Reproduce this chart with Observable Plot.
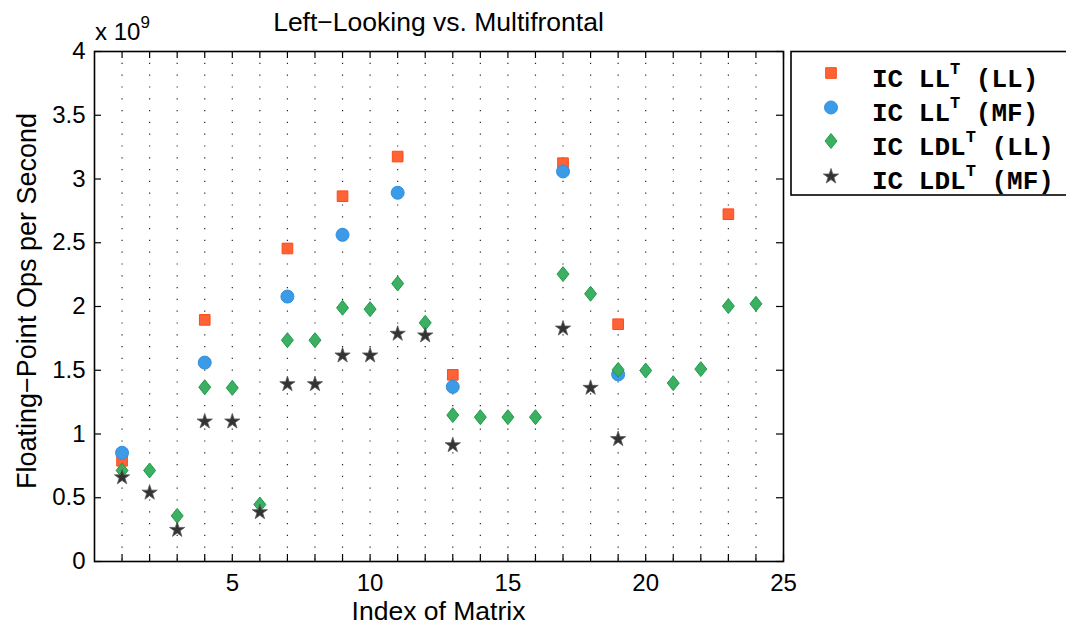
<!DOCTYPE html>
<html>
<head>
<meta charset="utf-8">
<script src="https://cdn.jsdelivr.net/npm/d3@7"></script>
<script src="https://cdn.jsdelivr.net/npm/@observablehq/plot@0.6"></script>
<style>
  html, body { margin: 0; padding: 0; background: #fff; overflow: hidden; }
  #chart { width: 1066px; height: 626px; overflow: hidden; }
</style>
</head>
<body>
<div id="chart"></div>
<script>
// ---- data (values in units of 10^9 flops/s) ----
const titleText = "Left\u2212Looking vs. Multifrontal";
const xLabelText = "Index of Matrix";
const yLabelText = "Floating\u2212Point Ops per Second";

const llLL_x = [1, 4, 7, 9, 11, 13, 17, 19, 23];
const llLL_y = [0.79, 1.895, 2.455, 2.865, 3.176, 1.464, 3.124, 1.861, 2.724];

const llMF_x = [1, 4, 7, 9, 11, 13, 17, 19];
const llMF_y = [0.853, 1.56, 2.078, 2.562, 2.892, 1.37, 3.059, 1.467];

const ldlLL_x = [1, 2, 3, 4, 5, 6, 7, 8, 9, 10, 11, 12, 13, 14, 15, 16, 17, 18, 19, 20, 21, 22, 23, 24];
const ldlLL_y = [0.714, 0.714, 0.358, 1.367, 1.362, 0.447, 1.736, 1.736, 1.99, 1.979, 2.18, 1.872, 1.148, 1.132, 1.132, 1.132, 2.254, 2.1, 1.503, 1.498, 1.399, 1.509, 2.003, 2.021];

const ldlMF_x = [1, 2, 3, 4, 5, 6, 7, 8, 9, 10, 11, 12, 13, 17, 18, 19];
const ldlMF_y = [0.66, 0.54, 0.248, 1.098, 1.098, 0.387, 1.391, 1.391, 1.616, 1.616, 1.786, 1.773, 0.912, 1.827, 1.362, 0.96];

const xTickLabels = [5, 10, 15, 20, 25];
const xMinorTicks = [1, 2, 3, 4, 5, 6, 7, 8, 9, 10, 11, 12, 13, 14, 15, 16, 17, 18, 19, 20, 21, 22, 23, 24];
const yTicks = [0, 0.5, 1, 1.5, 2, 2.5, 3, 3.5, 4];

const seriesNames = ["LL", "MF", "LL", "MF"];
const seriesBase = ["IC LL", "IC LL", "IC LDL", "IC LDL"];

// ---- layout ----
const W = 1066, H = 626;
const mL = 94, mR = 283, mT = 51, mB = 65;
const innerW = W - mL - mR, innerH = H - mT - mB;
const tickLen = 7;
const SANS = "'Liberation Sans', Arial, Helvetica, sans-serif";
const MONO = "'Liberation Mono', 'Courier New', Courier, monospace";

const zip = (xs, ys) => xs.map((x, i) => ({x, y: ys[i]}));
const dataA = zip(llLL_x, llLL_y);
const dataB = zip(llMF_x, llMF_y);
const dataC = zip(ldlLL_x, ldlLL_y);
const dataD = zip(ldlMF_x, ldlMF_y);

const diamond = {
  draw(ctx, size) {
    const r = Math.sqrt(size / Math.PI);
    const hw = r * 0.92, hh = r * 1.15;
    ctx.moveTo(0, -hh); ctx.lineTo(hw, 0); ctx.lineTo(0, hh); ctx.lineTo(-hw, 0); ctx.closePath();
  }
};

const styles = [
  {symbol: "square", r: 6.0, fill: "#ff6236", stroke: "#ff4a14", strokeWidth: 1},
  {symbol: "circle", r: 6.5, fill: "#3c9be6", stroke: "#2f8fe0", strokeWidth: 1},
  {symbol: diamond, r: 6.5, fill: "#3cb062", stroke: "#1f9a48", strokeWidth: 1},
  {symbol: "star", r: 4.8, fill: "#333333", stroke: "#5a5a5a", strokeWidth: 0.8}
];

const plot = Plot.plot({
  width: W, height: H,
  marginLeft: mL, marginRight: mR, marginTop: mT, marginBottom: mB,
  style: {fontFamily: SANS, background: "white", overflow: "visible", color: "#000"},
  x: {domain: [0, 25]},
  y: {domain: [0, 4]},
  marks: [
    Plot.ruleX(xMinorTicks, {x: d => d, stroke: "#000", strokeOpacity: 0.85, strokeWidth: 1.2, strokeDasharray: "1.2,10.6"}),
    Plot.tickX(xMinorTicks.concat([25]), {x: d => d, stroke: "#000", strokeWidth: 1.2, insetTop: innerH - tickLen}),
    Plot.tickX(xMinorTicks.concat([25]), {x: d => d, stroke: "#000", strokeWidth: 1.2, insetBottom: innerH - tickLen}),
    Plot.tickY(yTicks, {y: d => d, stroke: "#000", strokeWidth: 1.2, insetRight: innerW - tickLen}),
    Plot.tickY(yTicks, {y: d => d, stroke: "#000", strokeWidth: 1.2, insetLeft: innerW - tickLen}),
    Plot.axisX(xTickLabels, {anchor: "bottom", tickSize: 0, tickPadding: 12, fontSize: 24, label: null, tickFormat: d => String(d)}),
    Plot.axisY(yTicks, {anchor: "left", tickSize: 0, tickPadding: 9, fontSize: 24, label: null, tickFormat: d => String(d)}),
    Plot.dot(dataA, {x: "x", y: "y", ...styles[0]}),
    Plot.dot(dataB, {x: "x", y: "y", ...styles[1]}),
    Plot.dot(dataC, {x: "x", y: "y", ...styles[2]}),
    Plot.dot(dataD, {x: "x", y: "y", ...styles[3]}),
    Plot.frame({stroke: "#000", strokeWidth: 1.6})
  ]
});

document.getElementById("chart").appendChild(plot);
const svg = d3.select(plot);

function addText(x, y, size, str, anchor, family) {
  return svg.append("text").attr("x", x).attr("y", y)
    .attr("text-anchor", anchor).attr("font-size", size).attr("fill", "#000")
    .style("font-family", family || SANS).style("text-anchor", anchor).text(str);
}

// title
addText(mL + innerW / 2, 31, 26.5, titleText, "middle");
// exponent
const ex = addText(95, 40, 24, "", "start");
ex.append("tspan").text("x 10");
ex.append("tspan").attr("font-size", 17).attr("dy", -12).text("9");
// x label
addText(mL + innerW / 2, 620, 26.5, xLabelText, "middle");
// y label
addText(0, 0, 27, yLabelText, "middle").attr("transform", `translate(36,${mT + innerH / 2 - 5}) rotate(-90)`);

// legend
const lg = svg.append("g");
lg.append("rect").attr("x", 791).attr("y", 51.5).attr("width", 340).attr("height", 143.5)
  .attr("fill", "white").attr("stroke", "#000").attr("stroke-width", 1.6);
const markerY = [73, 107.5, 141, 176.5];
const baseY = [87, 121, 155, 189];
styles.forEach((s, i) => {
  const type = typeof s.symbol === "string"
    ? {square: d3.symbolSquare, circle: d3.symbolCircle, star: d3.symbolStar}[s.symbol]
    : s.symbol;
  lg.append("path")
    .attr("d", d3.symbol(type, Math.PI * s.r * s.r)())
    .attr("transform", `translate(831,${markerY[i]})`)
    .attr("fill", s.fill).attr("stroke", s.stroke).attr("stroke-width", s.strokeWidth);
  const t = lg.append("text").attr("x", 872).attr("y", baseY[i])
    .attr("text-anchor", "start").style("text-anchor", "start")
    .style("font-family", MONO).style("font-weight", "bold")
    .attr("font-size", 26).attr("fill", "#000").style("white-space", "pre");
  t.append("tspan").text(seriesBase[i]);
  t.append("tspan").attr("font-size", 17).attr("dy", -13).text("T");
  t.append("tspan").attr("dy", 13).text(" (" + seriesNames[i] + ")");
});
</script>
</body>
</html>
